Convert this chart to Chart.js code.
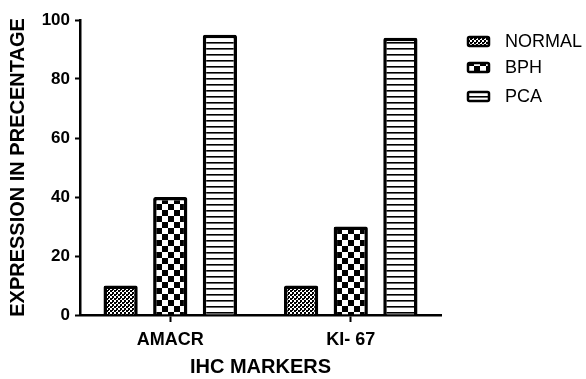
<!DOCTYPE html>
<html>
<head>
<meta charset="utf-8">
<script src="https://cdn.jsdelivr.net/npm/chart.js@4"></script>
<style>
  html, body { margin: 0; padding: 0; background: #fff; }
  #wrap { width: 586px; height: 379px; }
</style>
</head>
<body>
<div id="wrap"><canvas id="chart" width="586" height="379"></canvas></div>
<script>
const categories = ["AMACR", "KI- 67"];
const seriesNames = ["NORMAL", "BPH", "PCA"];
const normalValues = [10, 10];
const bphValues = [40, 30];
const pcaValues = [95, 94];
const yTicks = [0, 20, 40, 60, 80, 100];

const FONT = "'Liberation Sans', Arial, sans-serif";

function makeTile(w, h, draw) {
    const c = document.createElement("canvas");
    c.width = w;
    c.height = h;
    const g = c.getContext("2d");
    g.fillStyle = "#fff";
    g.fillRect(0, 0, w, h);
    g.fillStyle = "#000";
    draw(g);
    return document.getElementById("chart").getContext("2d").createPattern(c, "repeat");
}

// fine checker
const normalPattern = makeTile(4, 4, (g) => {
    g.fillRect(0, 0, 2, 2);
    g.fillRect(2, 2, 2, 2);
    g.fillRect(0, 2, 1, 1);
});
// coarse checker
const bphPattern = makeTile(12, 12, (g) => {
    g.fillRect(0, 0, 6, 6);
    g.fillRect(6, 6, 6, 6);
});
// horizontal stripes
const pcaPattern = makeTile(6, 6, (g) => {
    g.fillRect(0, 0, 6, 1);
    g.fillStyle = "#666";
    g.fillRect(0, 1, 6, 1);
});

const patterns = [normalPattern, bphPattern, pcaPattern];

// legend drawn on the right side
const sideLegend = {
    id: "sideLegend",
    afterDraw(chart) {
        const ctx = chart.ctx;
        const rows = [46, 72, 101];
        ctx.save();
        chart.data.datasets.forEach((ds, i) => {
            const y = rows[i];
            ctx.fillStyle = ds.backgroundColor;
            ctx.strokeStyle = "#000";
            ctx.lineWidth = 2.5;
            ctx.beginPath();
            ctx.roundRect(468, y - 9, 21, 9, 1.5);
            ctx.fill();
            ctx.stroke();
            ctx.fillStyle = "#000";
            ctx.font = "18px " + FONT;
            ctx.textBaseline = "alphabetic";
            ctx.fillText(ds.label, 505, y + 1);
        });
        ctx.restore();
    }
};

const datasets = seriesNames.map((name, i) => ({
    label: name,
    data: [normalValues, bphValues, pcaValues][i],
    backgroundColor: patterns[i],
    borderColor: "#000",
    borderWidth: 3.5,
    borderRadius: 2,
    borderSkipped: "start",
    categoryPercentage: 0.825,
    barPercentage: 0.69
}));

new Chart(document.getElementById("chart"), {
    type: "bar",
    data: { labels: categories, datasets },
    options: {
        responsive: false,
        animation: false,
        layout: { padding: { top: 20, right: 145, left: 0, bottom: 0 } },
        plugins: {
            legend: { display: false },
            tooltip: { enabled: false }
        },
        scales: {
            x: {
                offset: true,
                afterFit: (s) => { s.height = 64; },
                grid: {
                    offset: false,
                    drawOnChartArea: false,
                    drawTicks: true,
                    tickLength: 7,
                    tickWidth: 2,
                    tickColor: "#000"
                },
                border: { color: "#000", width: 2.5 },
                ticks: {
                    color: "#000",
                    padding: 7,
                    font: { family: FONT, size: 18, weight: "bold" }
                },
                title: {
                    display: true,
                    text: "IHC MARKERS",
                    color: "#000",
                    padding: { top: 2, bottom: 0 },
                    font: { family: FONT, size: 20, weight: "bold" }
                }
            },
            y: {
                min: 0,
                max: 100,
                afterFit: (s) => { s.width = 80; },
                afterBuildTicks: (s) => { s.ticks = yTicks.map((v) => ({ value: v })); },
                grid: {
                    drawOnChartArea: false,
                    drawTicks: true,
                    tickLength: 5,
                    tickWidth: 2,
                    tickColor: "#000"
                },
                border: { color: "#000", width: 2.5 },
                ticks: {
                    color: "#000",
                    padding: 5,
                    font: { family: FONT, size: 17, weight: "bold" }
                },
                title: {
                    display: true,
                    text: "EXPRESSION IN PRECENTAGE",
                    color: "#000",
                    padding: { top: 6, bottom: 0 },
                    font: { family: FONT, size: 20, weight: "bold" }
                }
            }
        }
    },
    plugins: [sideLegend]
});
</script>
</body>
</html>
